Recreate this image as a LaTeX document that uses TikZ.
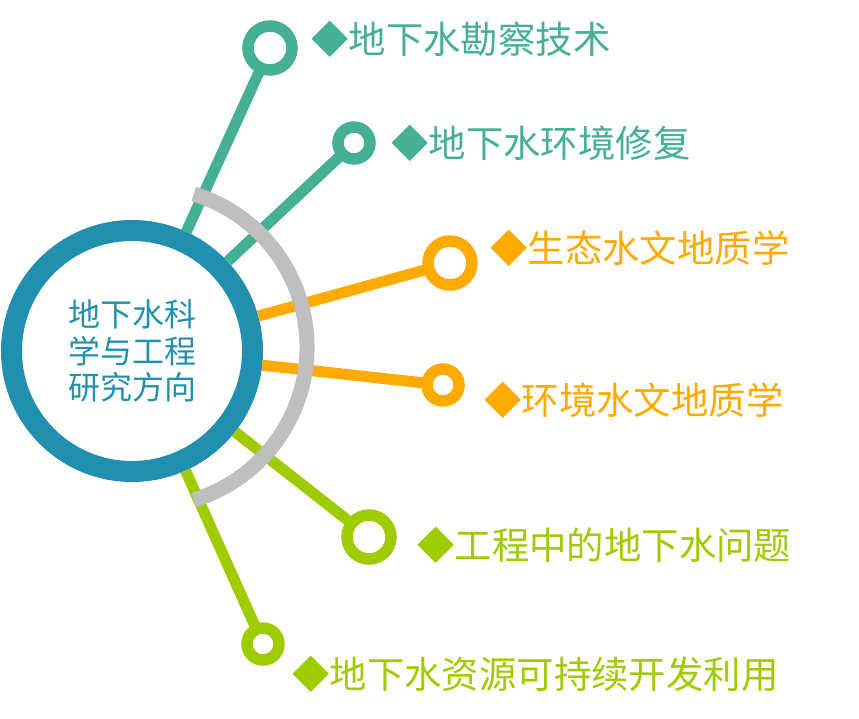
\documentclass[tikz,border=0pt]{standalone}
\usepackage{fontspec}
\newfontfamily\cjk{Noto Sans CJK SC}
\definecolor{hubblue}{HTML}{2190AE}
\definecolor{tealc}{HTML}{45B093}
\definecolor{grayc}{HTML}{BFBFBF}
\definecolor{orangec}{HTML}{FFAA00}
\definecolor{greenc}{HTML}{9FCB00}
\begin{document}
\begin{tikzpicture}[x=1pt,y=-1pt,
  hubnode/.style={circle,draw=hubblue,line width=21pt,minimum size=241pt,inner sep=0pt,
    text=hubblue,align=center,font=\cjk\fontsize{32}{36.5}\selectfont},
  bigend/.style={circle,draw=#1,line width=11.5pt,fill=white,minimum size=44pt,inner sep=0pt},
  smallend/.style={circle,draw=#1,line width=11.5pt,fill=white,minimum size=32pt,inner sep=0pt},
  spoke/.style={draw=#1,line width=11pt},
  lbl/.style={anchor=west,inner sep=0pt,text=#1,font=\cjk\fontsize{37.4}{40}\selectfont},
  arcline/.style={draw=grayc,line width=15pt}]
\useasboundingbox (0,0) rectangle (859,718);
\node[hubnode] (hub) at (132,351) {地下水科\\学与工程\\研究方向};
\coordinate (c1p) at (270,48);
\coordinate (c2p) at (354,143);
\coordinate (c3p) at (450,263);
\coordinate (c4p) at (443,385);
\coordinate (c5p) at (369,537);
\coordinate (c6p) at (263,644);
% spokes
\draw[spoke=tealc] (hub) -- (c1p);
\draw[spoke=tealc] (hub) -- (c2p);
\draw[spoke=orangec] (hub) -- (c3p);
\draw[spoke=orangec] (hub) -- (c4p);
\draw[spoke=greenc] (hub) -- (c5p);
\draw[spoke=greenc] (hub) -- (c6p);
% gray arc
\coordinate (arcc) at (147,347);
\draw[arcline] (arcc) ++(-73:160pt) arc[start angle=-73,end angle=73,radius=160pt];
% end circles
\node[bigend=tealc] (c1) at (c1p) {};
\node[smallend=tealc] (c2) at (c2p) {};
\node[bigend=orangec] (c3) at (c3p) {};
\node[smallend=orangec] (c4) at (c4p) {};
\node[bigend=greenc] (c5) at (c5p) {};
\node[smallend=greenc] (c6) at (c6p) {};
% labels
\node[lbl=tealc] (l1) at (311,39) {◆地下水勘察技术};
\node[lbl=tealc] (l2) at (391,143) {◆地下水环境修复};
\node[lbl=orangec] (l3) at (490,248) {◆生态水文地质学};
\node[lbl=orangec] (l4) at (484,400) {◆环境水文地质学};
\node[lbl=greenc] (l5) at (417,545) {◆工程中的地下水问题};
\node[lbl=greenc] (l6) at (292,674) {◆地下水资源可持续开发利用};
\end{tikzpicture}
\end{document}
